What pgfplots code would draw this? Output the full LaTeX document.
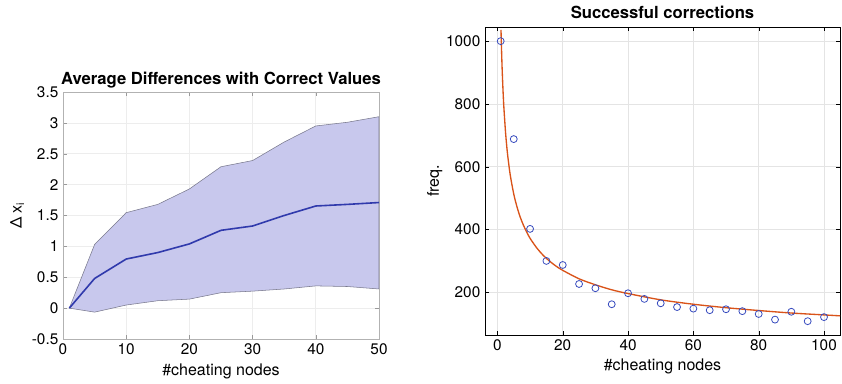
\documentclass[border=0pt]{standalone}
\usepackage{fontspec}
\setmainfont{TeX Gyre Heros}
\usepackage{pgfplots}
\pgfplotsset{compat=1.18}
\definecolor{bandfill}{RGB}{200,200,237}
\definecolor{bandedge}{RGB}{120,120,140}
\definecolor{meanline}{RGB}{48,58,172}
\definecolor{fitcol}{RGB}{217,83,25}
\definecolor{markcol}{RGB}{55,75,190}
\definecolor{gridc}{RGB}{228,228,228}
\begin{document}
\begin{tikzpicture}
\useasboundingbox (0,0) rectangle (631.5pt,287.25pt);
\pgfplotsset{
  mystyle/.style={
    scale only axis,
    anchor=south west,
    /pgf/number format/assume math mode=true,
    /pgf/number format/1000 sep={},
    tick label style={font=\fontsize{11.5}{13}\selectfont, black},
    label style={font=\fontsize{12}{14}\selectfont},
    title style={font=\bfseries\fontsize{12.5}{14}\selectfont},
    tick align=inside,
    major tick length=3pt,
    grid=major,
    major grid style={gridc, line width=0.5pt},
    xtick pos=both, ytick pos=both,
  }
}
% Left axis
\begin{axis}[mystyle,
  at={(47.25pt,33pt)}, width=237pt, height=185.25pt,
  xmin=0, xmax=50, ymin=-0.5, ymax=3.5,
  xtick={0,10,20,30,40,50},
  ytick={-0.5,0,0.5,1,1.5,2,2.5,3,3.5},
  yticklabels={-0.5,0,0.5,1,1.5,2,2.5,3,3.5},
  axis line style={black!30},
  tick style={black!40},
  major grid style={black!7, line width=0.5pt},
  xlabel={\#cheating nodes},
  ylabel={Δ x\textsubscript{i}},
  xlabel style={yshift=0pt},
  ylabel style={yshift=-1pt},
  title={Average Differences with Correct Values},
  title style={yshift=-7pt},
]
\addplot[fill=bandfill, draw=bandedge, line width=0.4pt] coordinates {
  (1,0) (5,1.03) (10,1.546) (15,1.68) (20,1.93) (25,2.29) (30,2.39) (35,2.69) (40,2.95) (45,3.01) (50,3.10)
  (50,0.31) (45,0.35) (40,0.36) (35,0.31) (30,0.275) (25,0.25) (20,0.146) (15,0.12) (10,0.05) (5,-0.065) (1,0)
} -- cycle;
\addplot[meanline, line width=1.2pt] coordinates {
  (1,0) (5,0.48) (10,0.795) (15,0.90) (20,1.04) (25,1.26) (30,1.33) (35,1.50) (40,1.654) (45,1.68) (50,1.71)
};
\end{axis}
% Right axis
\begin{axis}[mystyle,
  at={(363.75pt,36pt)}, width=266.25pt, height=231pt,
  xmin=-3.8, xmax=104.9, ymin=64, ymax=1045,
  xtick={0,20,40,60,80,100},
  ytick={200,400,600,800,1000},
  axis line style={black, line width=0.6pt},
  tick style={black},
  xlabel={\#cheating nodes},
  ylabel={freq.},
  xlabel style={yshift=1pt},
  ylabel style={yshift=-4pt},
  title={Successful corrections},
  title style={yshift=-3pt},
]
\addplot[fitcol, line width=1pt, smooth] coordinates {
  (1.1,1036) (1.2,995) (1.4,926) (1.6,871) (1.8,824) (2,785) (2.5,708) (3,650) (3.5,606) (4,569)
  (5,513) (6,472) (7,439) (8,413) (9,391) (10,372) (12,342) (14,318) (16,299) (18,283) (20,270)
  (25,243) (30,224) (35,208) (40,196) (50,176) (60,162) (70,151) (80,142) (90,134) (100,128) (105,125)
};
\addplot[only marks, mark=o, mark size=2.6pt, mark options={markcol, line width=0.6pt}] coordinates {
  (1,1000) (5,688) (10,402) (15,300) (20,287) (25,226.5) (30,213) (35,162) (40,197) (45,179) (50,165)
  (55,153) (60,148) (65,143) (70,146) (75,140) (80,131) (85,113) (90,138) (95,108) (100,121)
};
\end{axis}
\end{tikzpicture}
\end{document}
